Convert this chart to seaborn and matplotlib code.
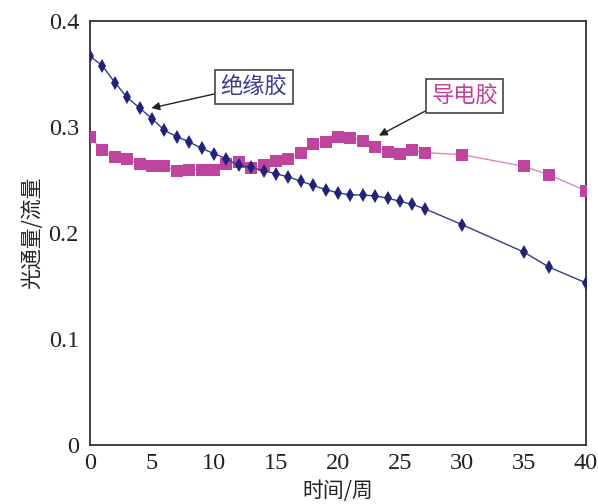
import matplotlib
matplotlib.use("Agg")
import matplotlib.pyplot as plt
import seaborn as sns
import numpy as np

weeks_a = [0, 1, 2, 3, 4, 5, 6, 7, 8, 9, 10, 11, 12, 13, 14, 15, 16, 17, 18, 19,
           20, 21, 22, 23, 24, 25, 26, 27, 30, 35, 37, 40]
insul = [0.367, 0.358, 0.342, 0.328, 0.318, 0.308, 0.297, 0.291, 0.286, 0.280,
         0.275, 0.270, 0.264, 0.262, 0.259, 0.256, 0.253, 0.249, 0.245, 0.241,
         0.238, 0.236, 0.236, 0.235, 0.233, 0.230, 0.227, 0.223, 0.208, 0.182,
         0.168, 0.153]
weeks_b = [0, 1, 2, 3, 4, 5, 6, 7, 8, 9, 10, 11, 12, 13, 14, 15, 16, 17, 18, 19,
           20, 21, 22, 23, 24, 25, 26, 27, 30, 35, 37, 40]
conduct = [0.291, 0.278, 0.272, 0.270, 0.265, 0.263, 0.263, 0.259, 0.260, 0.260,
           0.260, 0.265, 0.267, 0.261, 0.264, 0.268, 0.270, 0.276, 0.284, 0.286,
           0.291, 0.290, 0.287, 0.281, 0.277, 0.275, 0.278, 0.276, 0.274, 0.263,
           0.255, 0.240]
x_ticks = [0, 5, 10, 15, 20, 25, 30, 35, 40]
y_ticks = [0, 0.1, 0.2, 0.3, 0.4]
y_ticklabels = ["0", "0.1", "0.2", "0.3", "0.4"]

sns.set_style("white")
plt.rcParams['font.family'] = ['Noto Sans CJK SC', 'DejaVu Sans']

navy = "#22227a"
pink = "#bf449e"

fig = plt.figure(figsize=(5.98, 5.04), dpi=100)
ax = fig.add_axes([0.1505, 0.117, 0.8295, 0.841])

sns.lineplot(x=weeks_b, y=conduct, ax=ax, color="#d47fc0", linewidth=0.9,
             marker="s", markersize=8.5, markerfacecolor=pink, markeredgecolor=pink,
             markeredgewidth=0, zorder=3)
sns.lineplot(x=weeks_a, y=insul, ax=ax, color="#3a3a80", linewidth=1.0,
             marker="d", markersize=7.5, markerfacecolor=navy, markeredgecolor=navy,
             markeredgewidth=0, zorder=4)

ax.set_xlim(0, 40)
ax.set_ylim(0, 0.4)
ax.set_xticks(x_ticks)
ax.set_yticks(y_ticks)
ax.set_yticklabels(y_ticklabels)
for lab in ax.get_xticklabels() + ax.get_yticklabels():
    lab.set_fontfamily("Liberation Serif")
    lab.set_fontsize(17.5)
    lab.set_color("#222222")
ax.tick_params(axis="x", direction="in", length=4, width=1, pad=6, colors="#333333",
               labelcolor="#222222")
ax.tick_params(axis="y", direction="in", length=5, width=1, pad=8, colors="#333333",
               labelcolor="#222222")
for s in ax.spines.values():
    s.set_visible(True)
    s.set_color("#333333")
    s.set_linewidth(1.3)

ax.set_xlabel("时间/周", fontsize=15, color="#222222", labelpad=4)
ax.set_ylabel("光通量/流量", fontsize=15, color="#222222", labelpad=4)

ax.annotate("绝缘胶", xy=(4.95, 0.318), xytext=(13.2, 0.338),
            fontsize=16, color="#3a3a8c", ha="center", va="center",
            bbox=dict(boxstyle="square,pad=0.25", fc="white", ec="#444444", lw=1.2),
            arrowprops=dict(arrowstyle="-|>", color="#222222", lw=1.0,
                            mutation_scale=12, shrinkA=0, shrinkB=0,
                            relpos=(0.0, 0.25)))
ax.annotate("导电胶", xy=(23.3, 0.292), xytext=(30.2, 0.329),
            fontsize=16, color="#c0409a", ha="center", va="center",
            bbox=dict(boxstyle="square,pad=0.25", fc="white", ec="#444444", lw=1.2),
            arrowprops=dict(arrowstyle="-|>", color="#222222", lw=1.0,
                            mutation_scale=12, shrinkA=0, shrinkB=0,
                            relpos=(0.0, 0.0)))

fig.savefig("out.png", dpi=100)
